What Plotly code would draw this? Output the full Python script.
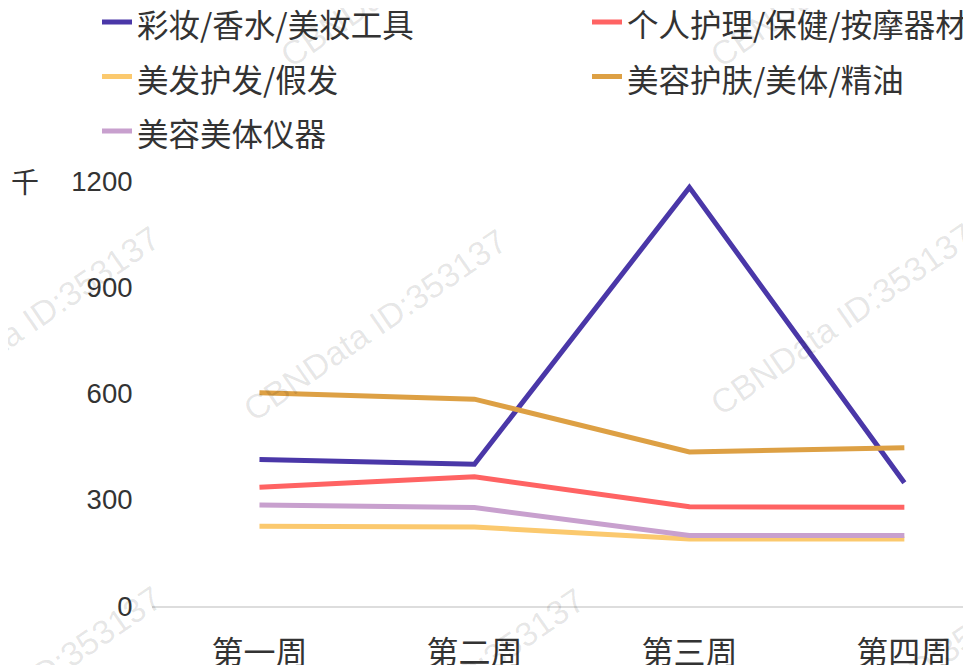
import plotly.graph_objects as go

# ---- data ----
weeks = ["第一周", "第二周", "第三周", "第四周"]
series_names = ["彩妆/香水/美妆工具", "个人护理/保健/按摩器材", "美发护发/假发",
                "美容护肤/美体/精油", "美容美体仪器"]
cosmetics = [414, 400, 1182, 348]
personal_care = [335, 365, 280, 279]
hair_care = [225, 223, 189, 189]
skin_care = [602, 584, 435, 447]
beauty_devices = [285, 278, 199, 199]
y_ticks = [0, 300, 600, 900, 1200]
unit_label = "千"
watermark = "CBNData ID:353137"

series_values = [cosmetics, personal_care, hair_care, skin_care, beauty_devices]
colors = ["#4a37a8", "#ff6363", "#fbc96e", "#dda044", "#c8a0ce"]
legend_ids = ["legend", "legend2", "legend", "legend2", "legend"]

# page body has an 8px margin, so the figure is 8px smaller than the window
W, H = 963, 657
L, R, T, B = 144, 0, 173, 59
PW, PH = W - L - R, H - T - B
OFF = 8


def px_x(px):  # screen px -> paper
    return (px - OFF - L) / PW


def px_y(py):
    return (H - B - (py - OFF)) / PH


fig = go.Figure()
for name, vals, col, lg in zip(series_names, series_values, colors, legend_ids):
    fig.add_trace(go.Scatter(
        x=weeks, y=vals, name=f'<span style="font-size:31.5px">{name}</span>',
        mode="lines", line=dict(color=col, width=5),
        cliponaxis=False, legend=lg,
    ))

annotations = []
wm_centers = [(412, -29), (842, -29), (28, 322), (375, 325), (842, 319),
              (30, 682), (453, 684), (906, 678)]
for cx, cy in wm_centers:
    annotations.append(dict(
        x=px_x(cx), y=px_y(cy), xref="paper", yref="paper", text=watermark,
        showarrow=False, textangle=-34.5,
        font=dict(size=34, color="rgba(0,0,0,0.1)", family="Liberation Sans, Arial"),
        xanchor="center", yanchor="middle",
    ))
annotations.append(dict(
    x=px_x(25), y=px_y(181), xref="paper", yref="paper", text=unit_label,
    showarrow=False, font=dict(size=28, color="#333333", family="Noto Sans CJK SC"),
    xanchor="center", yanchor="middle",
))

legend_common = dict(
    orientation="v", xanchor="left", yanchor="top",
    font=dict(size=39.6, family="Noto Sans CJK SC", color="#333333"),
    bgcolor="rgba(0,0,0,0)", traceorder="normal",
)

fig.update_layout(
    width=W, height=H,
    margin=dict(l=L, r=R, t=T, b=B, autoexpand=False),
    paper_bgcolor="white", plot_bgcolor="white",
    font=dict(family="Liberation Sans, Arial, Noto Sans CJK SC", color="#333333"),
    showlegend=True,
    legend=dict(x=px_x(97), y=px_y(-10.25), **legend_common),
    legend2=dict(x=px_x(587), y=px_y(-10.25), **legend_common),
    xaxis=dict(
        type="category", range=[-0.5, 3.31], showgrid=False, zeroline=False,
        showline=True, linecolor="#dddddd", linewidth=1.5,
        ticks="outside", ticklen=18, tickcolor="rgba(0,0,0,0)",
        tickfont=dict(size=32, family="Noto Sans CJK SC", color="#333333"),
    ),
    yaxis=dict(
        range=[0, 1200], tickvals=y_ticks, showgrid=False, zeroline=False,
        showline=False, ticks="outside", ticklen=13, tickcolor="rgba(0,0,0,0)",
        tickfont=dict(size=27.5, family="Liberation Sans, Arial", color="#333333"),
    ),
    annotations=annotations,
)

fig.write_html("out.html")
